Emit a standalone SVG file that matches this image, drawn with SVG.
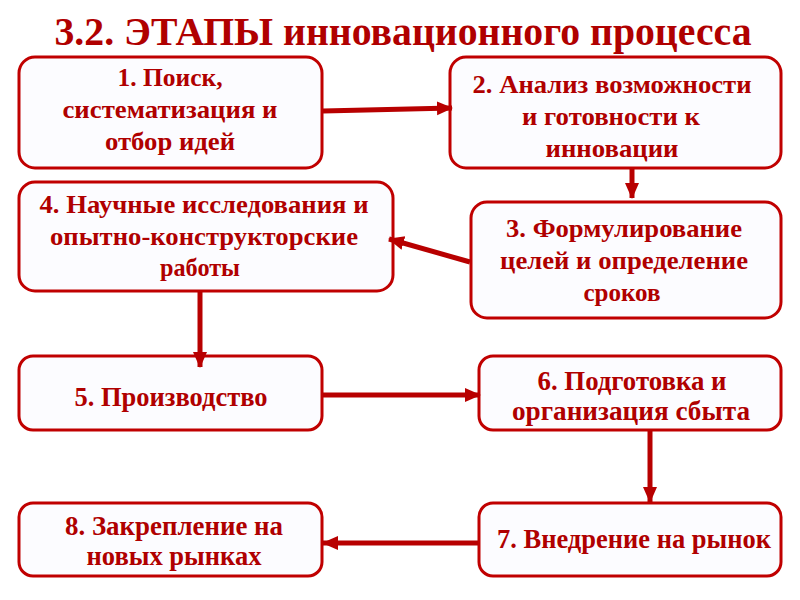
<svg xmlns="http://www.w3.org/2000/svg" width="800" height="600" viewBox="0 0 800 600">
<defs>
<style>
.box{fill:#fcfcff;stroke:#c00000;stroke-width:3}
.t{font-family:"Liberation Serif","Times New Roman",serif;font-weight:bold;fill:#b00000;text-anchor:middle;font-size:25px}
.c{font-size:27px}
.title{font-size:40px}
.con{stroke:#b80000;stroke-width:5;fill:none}
</style>
<marker id="ah" markerUnits="userSpaceOnUse" markerWidth="16" markerHeight="16" viewBox="0 0 16 16" refX="15" refY="8" orient="auto">
<path d="M0,1 L16,8 L0,15 Z" fill="#b80000"/>
</marker>
</defs>
<rect width="800" height="600" fill="#ffffff"/>
<text class="t title" x="403" y="45" textLength="697" lengthAdjust="spacingAndGlyphs">3.2. ЭТАПЫ инновационного процесса</text>
<g id="n1">
<rect class="box" x="19" y="57" width="303" height="111" rx="16"/>
<text class="t" x="170" y="86" textLength="105" lengthAdjust="spacingAndGlyphs">1. Поиск,</text>
<text class="t" x="170" y="118" textLength="215" lengthAdjust="spacingAndGlyphs">систематизация и</text>
<text class="t" x="170" y="150" textLength="130" lengthAdjust="spacingAndGlyphs">отбор идей</text>
</g>
<g id="n2">
<rect class="box" x="450" y="57" width="331" height="111" rx="16"/>
<text class="t" x="612" y="93" textLength="279" lengthAdjust="spacingAndGlyphs">2. Анализ возможности</text>
<text class="t" x="611" y="125" textLength="178" lengthAdjust="spacingAndGlyphs">и готовности к</text>
<text class="t" x="612" y="157" textLength="133" lengthAdjust="spacingAndGlyphs">инновации</text>
</g>
<g id="n4">
<rect class="box" x="19" y="182" width="374" height="109" rx="16"/>
<text class="t" x="204" y="213" textLength="329" lengthAdjust="spacingAndGlyphs">4. Научные исследования и</text>
<text class="t" x="204" y="245" textLength="308" lengthAdjust="spacingAndGlyphs">опытно-конструкторские</text>
<text class="t" x="200" y="276" textLength="80" lengthAdjust="spacingAndGlyphs">работы</text>
</g>
<g id="n3">
<rect class="box" x="471" y="202" width="310" height="116" rx="16"/>
<text class="t" x="624" y="237" textLength="236" lengthAdjust="spacingAndGlyphs">3. Формулирование</text>
<text class="t" x="624" y="269" textLength="248" lengthAdjust="spacingAndGlyphs">целей и определение</text>
<text class="t" x="622" y="301" textLength="77" lengthAdjust="spacingAndGlyphs">сроков</text>
</g>
<g id="n5">
<rect class="box" x="19" y="356" width="303" height="74" rx="14"/>
<text class="t c" x="171" y="406" textLength="193" lengthAdjust="spacingAndGlyphs">5. Производство</text>
</g>
<g id="n6">
<rect class="box" x="479" y="356" width="302" height="74" rx="14"/>
<text class="t c" x="632" y="390" textLength="189" lengthAdjust="spacingAndGlyphs">6. Подготовка и</text>
<text class="t c" x="631" y="420" textLength="238" lengthAdjust="spacingAndGlyphs">организация сбыта</text>
</g>
<g id="n8">
<rect class="box" x="19" y="503" width="303" height="73" rx="14"/>
<text class="t c" x="174" y="535" textLength="218" lengthAdjust="spacingAndGlyphs">8. Закрепление на</text>
<text class="t c" x="174" y="565" textLength="175" lengthAdjust="spacingAndGlyphs">новых рынках</text>
</g>
<g id="n7">
<rect class="box" x="479" y="503" width="302" height="73" rx="14"/>
<text class="t c" x="634" y="548" textLength="274" lengthAdjust="spacingAndGlyphs">7. Внедрение на рынок</text>
</g>
<g id="connectors">
<line class="con" x1="323" y1="111" x2="452" y2="108" marker-end="url(#ah)"/>
<line class="con" x1="632" y1="169" x2="632" y2="198" marker-end="url(#ah)"/>
<line class="con" x1="470" y1="262" x2="389" y2="239" marker-end="url(#ah)"/>
<line class="con" x1="200" y1="292" x2="200" y2="367" marker-end="url(#ah)"/>
<line class="con" x1="323" y1="395" x2="480" y2="395" marker-end="url(#ah)"/>
<line class="con" x1="650" y1="431" x2="650" y2="502" marker-end="url(#ah)"/>
<line class="con" x1="478" y1="543" x2="323" y2="543" marker-end="url(#ah)"/>
</g>
</svg>
